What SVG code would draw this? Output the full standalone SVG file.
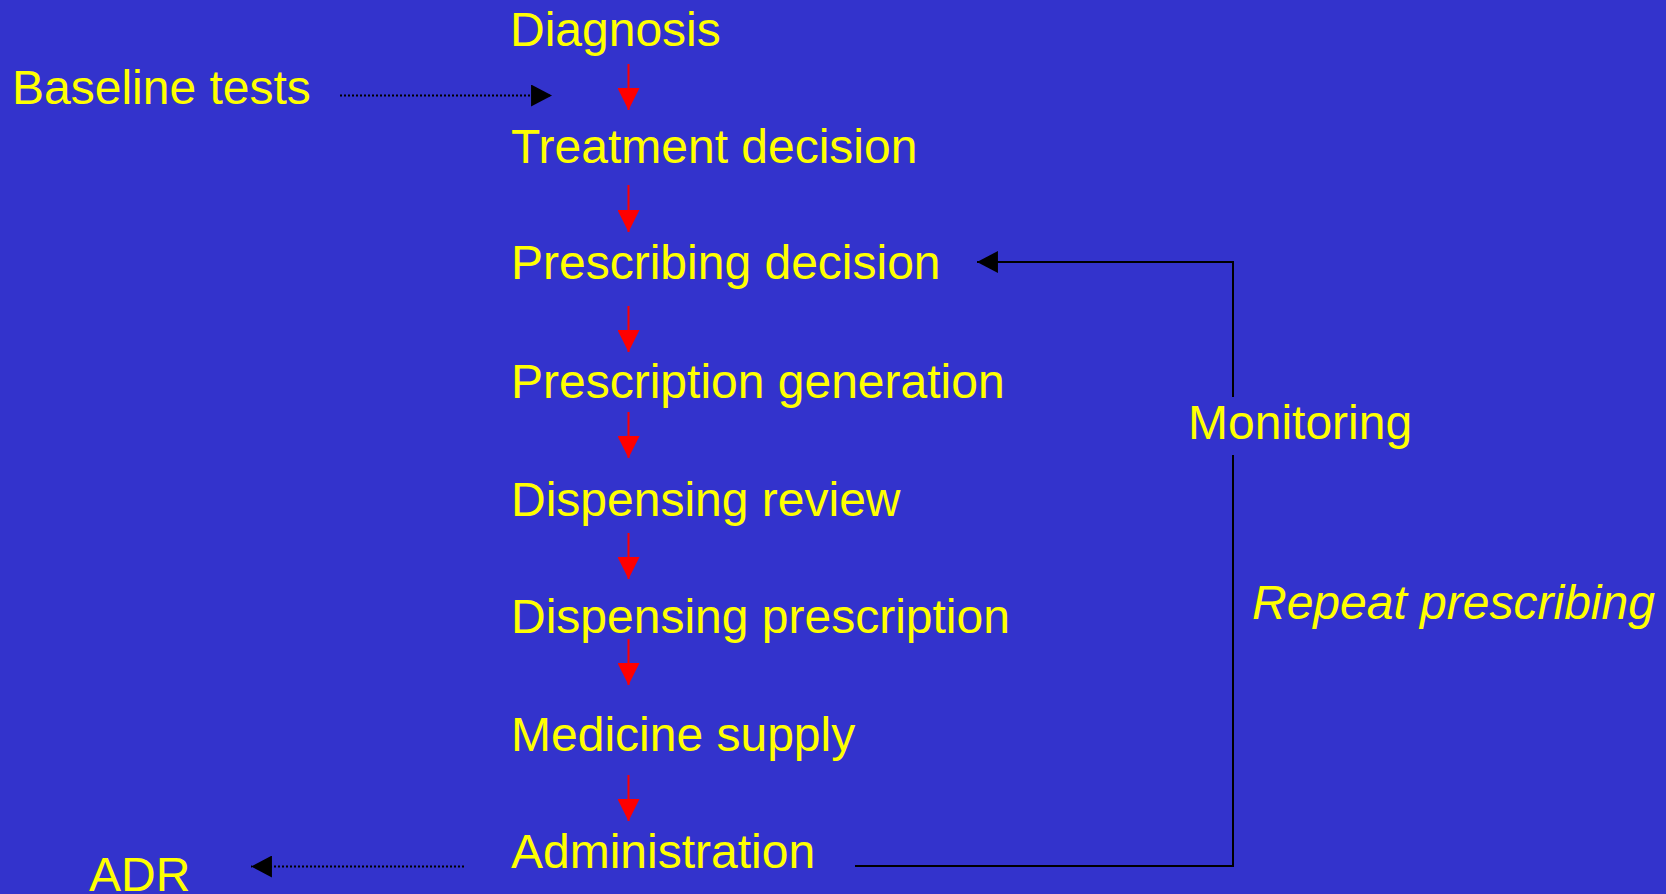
<svg xmlns="http://www.w3.org/2000/svg" width="1666" height="894" viewBox="0 0 1666 894">
<defs>
<style>
.t{font-family:"Liberation Sans",Arial,sans-serif;font-size:48px;fill:#FFFF00}
.i{font-style:italic}
.red{stroke:#FF0000;stroke-width:2;fill:none}
.blk{stroke:#000000;stroke-width:2;fill:none}
.dot{stroke:#000000;stroke-width:2;stroke-dasharray:2 2;fill:none}
</style>
<marker id="ra" markerUnits="userSpaceOnUse" markerWidth="22" markerHeight="22" refX="21" refY="10.5" orient="auto" viewBox="0 0 21 21"><path d="M0,0 L21,10.5 L0,21 Z" fill="#FF0000"/></marker>
<marker id="ba" markerUnits="userSpaceOnUse" markerWidth="22" markerHeight="22" refX="20" refY="10.5" orient="auto" viewBox="0 0 20 21"><path d="M0,0 L20,10.5 L0,21 Z" fill="#000000"/></marker>
</defs>
<rect width="1666" height="894" fill="#3333CC"/>
<g id="connectors">
<line class="red" x1="628.5" y1="64" x2="628.5" y2="110" marker-end="url(#ra)"/>
<line class="red" x1="628.5" y1="185" x2="628.5" y2="232" marker-end="url(#ra)"/>
<line class="red" x1="628.5" y1="306" x2="628.5" y2="352" marker-end="url(#ra)"/>
<line class="red" x1="628.5" y1="412" x2="628.5" y2="458" marker-end="url(#ra)"/>
<line class="red" x1="628.5" y1="533" x2="628.5" y2="579" marker-end="url(#ra)"/>
<line class="red" x1="628.5" y1="639" x2="628.5" y2="685" marker-end="url(#ra)"/>
<line class="red" x1="628.5" y1="775" x2="628.5" y2="821" marker-end="url(#ra)"/>
<line class="dot" x1="340" y1="95.5" x2="552" y2="95.5" marker-end="url(#ba)"/>
<line class="dot" x1="464" y1="866.5" x2="251" y2="866.5" marker-end="url(#ba)"/>
<polyline class="blk" points="855,866 1233,866 1233,455"/>
<polyline class="blk" points="1233,397 1233,262 977,262" marker-end="url(#ba)"/>
</g>
<g id="diagnosis"><text class="t" x="510" y="46">Diagnosis</text></g>
<g id="baseline-tests"><text class="t" x="12" y="104">Baseline tests</text></g>
<g id="treatment-decision"><text class="t" x="511" y="163">Treatment decision</text></g>
<g id="prescribing-decision"><text class="t" x="511" y="279">Prescribing decision</text></g>
<g id="prescription-generation"><text class="t" x="511" y="398">Prescription generation</text></g>
<g id="dispensing-review"><text class="t" x="511" y="516">Dispensing review</text></g>
<g id="dispensing-prescription"><text class="t" x="511" y="633">Dispensing prescription</text></g>
<g id="medicine-supply"><text class="t" x="511" y="751">Medicine supply</text></g>
<g id="administration"><text class="t" x="511" y="868">Administration</text></g>
<g id="adr"><text class="t" x="89" y="891">ADR</text></g>
<g id="monitoring"><text class="t" x="1188" y="439">Monitoring</text></g>
<g id="repeat-prescribing"><text class="t i" x="1252" y="619">Repeat prescribing</text></g>
</svg>
